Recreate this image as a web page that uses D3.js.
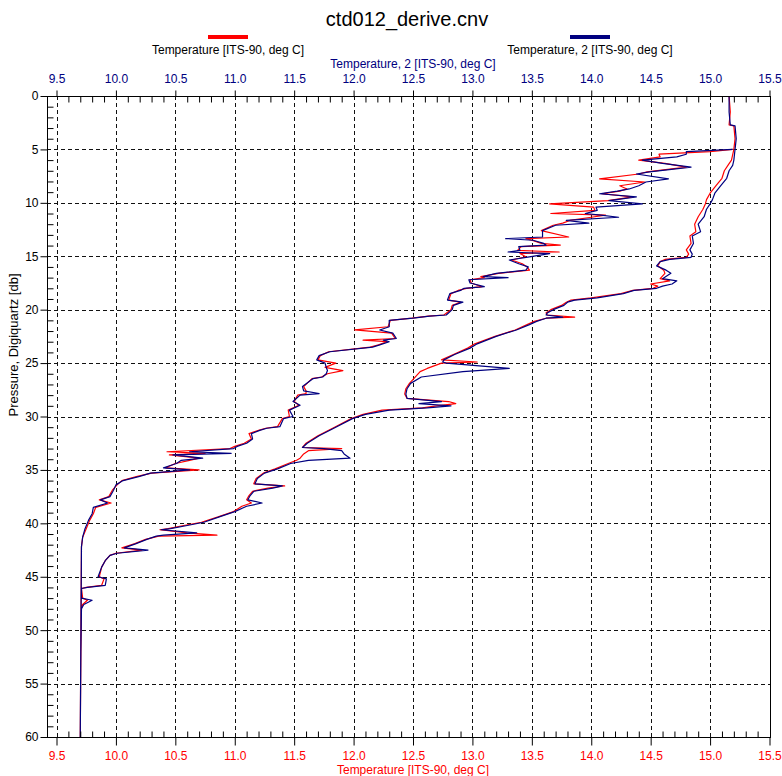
<!DOCTYPE html>
<html>
<head>
<meta charset="utf-8">
<script src="https://cdn.jsdelivr.net/npm/d3@7"></script>
<style>
  body { margin: 0; background: #fff; }
  svg { display: block; }
  text { font-family: "Liberation Sans", Arial, sans-serif; }
</style>
</head>
<body>
<svg id="chart" width="782" height="776"></svg>
<script>
// CTD cast ctd012: pressure (db) with primary and secondary temperature (ITS-90, deg C)
// Scan order: surface soak, descending branch, bottom, ascending branch.
const pressure = [
  0.0, 1.5, 2.7, 2.8, 4.0, 5.0, 6.0, 6.5, 7.0, 7.7, 8.4, 9.1, 9.7, 10.1, 10.6, 11.3, 12.0, 12.7, 13.1, 13.8,
  14.4, 14.8, 15.1, 15.3, 15.5, 15.9, 16.3, 16.6, 17.1, 17.3, 17.6, 17.8, 18.0, 18.2, 18.5, 18.9, 19.1, 19.3, 19.6, 20.0,
  20.3, 20.5, 20.7, 20.8, 21.1, 21.4, 21.9, 22.5, 23.2, 23.6, 24.2, 24.7, 24.9, 25.0, 25.5, 25.8, 26.3, 26.9, 27.4, 27.9,
  28.3, 28.6, 28.8, 29.0, 29.2, 29.4, 29.8, 30.2, 31.0, 31.8, 32.5, 32.9, 33.0, 33.2, 33.5, 33.9, 34.1, 34.4, 34.9, 35.3,
  35.8, 36.3, 36.5, 36.7, 37.0, 37.4, 37.8, 38.1, 38.4, 38.9, 39.4, 39.9, 40.2, 40.5, 40.6, 40.9, 41.1, 41.2, 41.5, 41.9,
  42.3, 42.5, 42.8, 43.0, 43.5, 44.1, 45.0, 45.2, 45.8, 46.0, 46.1, 47.0, 47.2, 47.6, 48.0, 52.0, 60.0,
  42.2, 41.3, 40.5, 39.7, 39.1, 38.5, 38.1, 37.8, 37.5, 36.9, 36.4, 36.0, 35.6, 35.3, 35.0, 34.8, 34.4, 34.1, 33.9, 33.6,
  33.45, 33.3, 33.0, 32.8, 32.5, 32.1, 31.6, 31.3, 31.1, 30.95, 30.2, 30.0, 29.4, 28.95, 28.6, 28.0, 27.85, 27.6, 27.2, 26.45,
  26.3, 26.0, 25.7, 25.4, 25.0, 24.7, 24.3, 23.94, 23.5, 23.3, 23.0, 22.85, 22.7, 22.2, 21.9, 21.6, 21.0, 20.8, 20.6, 20.5,
  20.0, 19.6, 19.3, 19.1, 18.5, 18.2, 18.0, 17.85, 17.5, 17.2, 17.0, 16.9, 16.6, 16.3, 16.0, 15.7, 15.35, 15.05, 14.75, 14.6,
  14.45, 14.1, 13.95, 13.8, 13.5, 13.35, 13.2, 12.6, 12.1, 11.9, 11.65, 11.35, 11.15, 11.0, 10.7, 10.4, 10.1, 9.8, 9.45, 9.15,
  8.9, 8.7, 8.4, 8.05, 7.75, 7.3, 7.1, 6.65, 6.3, 6.0, 5.7, 5.45, 5.2, 5.0
];

// Temperature [ITS-90, deg C] (primary sensor)
const temperature = [
  15.16, 15.17, 15.16, 15.20, 15.21, 15.20, 15.18, 15.15, 15.12, 15.10, 15.05, 15.00, 14.97, 14.96, 14.94, 14.90, 14.87, 14.88, 14.83, 14.84,
  14.80, 14.82, 14.80, 14.62, 14.58, 14.56, 14.61, 14.62, 14.58, 14.66, 14.50, 14.56, 14.52, 14.35, 14.25, 14.00, 13.83, 13.79, 13.75, 13.66,
  13.62, 13.63, 13.86, 13.62, 13.52, 13.46, 13.36, 13.19, 13.02, 12.96, 12.84, 12.74, 13.04, 12.74, 12.62, 12.56, 12.52, 12.47, 12.44, 12.43,
  12.45, 12.80, 12.86, 12.70, 12.58, 12.24, 12.08, 11.98, 11.84, 11.70, 11.60, 11.57, 11.90, 11.62, 11.58, 11.55, 11.52, 11.45, 11.34, 11.24,
  11.18, 11.16, 11.42, 11.28, 11.15, 11.12, 11.10, 11.14, 11.06, 10.99, 10.86, 10.72, 10.57, 10.44, 10.37, 10.60, 10.85, 10.36, 10.25, 10.16,
  10.05, 10.22, 10.00, 9.95, 9.91, 9.88, 9.86, 9.90, 9.88, 9.75, 9.71, 9.72, 9.76, 9.72, 9.71, 9.705, 9.70,
  9.71, 9.72, 9.75, 9.78, 9.81, 9.83, 9.96, 9.86, 9.94, 9.97, 10.01, 10.05, 10.18, 10.30, 10.70, 10.42, 10.50, 10.62, 10.70, 10.45,
  10.75, 10.43, 10.96, 11.00, 11.08, 11.14, 11.12, 11.20, 11.26, 11.36, 11.40, 11.46, 11.45, 11.54, 11.50, 11.53, 11.60, 11.60, 11.58, 11.65,
  11.73, 11.78, 11.91, 11.76, 11.85, 11.70, 11.72, 11.79, 12.14, 12.21, 12.28, 12.08, 12.35, 12.32, 12.01, 12.29, 12.31, 12.49, 12.63, 12.76,
  12.82, 12.83, 12.90, 12.80, 12.82, 12.88, 12.95, 13.08, 12.99, 12.98, 13.10, 13.07, 13.22, 13.48, 13.46, 13.42, 13.33, 13.45, 13.40, 13.73,
  13.38, 13.41, 13.74, 13.58, 13.50, 13.45, 13.81, 13.58, 13.68, 13.76, 13.82, 14.00, 14.12, 13.66, 14.03, 14.02, 13.65, 14.14, 14.35, 14.09,
  14.24, 14.30, 14.24, 14.45, 14.07, 14.40, 14.47, 14.80, 14.62, 14.40, 14.58, 14.57, 15.00, 15.19
];

// Temperature, 2 [ITS-90, deg C] (secondary sensor)
const temperature2 = [
  15.16, 15.16, 15.17, 15.21, 15.22, 15.21, 15.20, 15.19, 15.16, 15.14, 15.09, 15.04, 15.02, 15.00, 14.97, 14.95, 14.90, 14.92, 14.85, 14.86,
  14.83, 14.85, 14.84, 14.66, 14.58, 14.55, 14.63, 14.67, 14.60, 14.72, 14.68, 14.60, 14.55, 14.36, 14.27, 14.05, 13.86, 13.80, 13.77, 13.68,
  13.63, 13.62, 13.76, 13.62, 13.54, 13.48, 13.37, 13.20, 13.04, 12.98, 12.85, 12.76, 12.75, 12.78, 13.31, 12.92, 12.57, 12.48, 12.45, 12.44,
  12.45, 12.74, 12.55, 12.82, 12.62, 12.30, 12.10, 11.99, 11.85, 11.71, 11.61, 11.57, 11.75, 11.90, 11.92, 11.97, 11.62, 11.47, 11.36, 11.25,
  11.19, 11.17, 11.40, 11.32, 11.16, 11.13, 11.11, 11.23, 11.10, 11.00, 10.87, 10.74, 10.60, 10.46, 10.38, 10.68, 10.40, 10.34, 10.26, 10.17,
  10.07, 10.27, 10.01, 9.95, 9.91, 9.88, 9.85, 9.92, 9.91, 9.76, 9.71, 9.71, 9.80, 9.73, 9.71, 9.705, 9.70,
  9.71, 9.72, 9.74, 9.77, 9.80, 9.81, 9.93, 9.87, 9.95, 9.98, 10.00, 10.06, 10.20, 10.29, 10.62, 10.40, 10.51, 10.55, 10.73, 10.48,
  10.97, 10.62, 10.99, 11.02, 11.10, 11.15, 11.14, 11.21, 11.27, 11.38, 11.41, 11.49, 11.46, 11.55, 11.49, 11.55, 11.71, 11.58, 11.57, 11.66,
  11.74, 11.77, 11.78, 11.77, 11.76, 11.69, 11.71, 11.80, 12.16, 12.22, 12.30, 12.25, 12.36, 12.33, 12.22, 12.30, 12.30, 12.50, 12.64, 12.78,
  12.83, 12.84, 12.92, 12.79, 12.81, 12.90, 12.93, 13.10, 12.98, 12.97, 13.30, 13.09, 13.20, 13.45, 13.47, 13.39, 13.31, 13.48, 13.65, 13.30,
  13.40, 13.39, 13.62, 13.60, 13.51, 13.28, 13.59, 13.59, 13.70, 13.98, 13.79, 14.23, 14.08, 13.95, 14.05, 14.04, 14.43, 14.15, 14.38, 14.07,
  14.22, 14.32, 14.40, 14.46, 14.65, 14.38, 14.49, 14.84, 14.60, 14.43, 14.72, 14.80, 14.80, 15.19
];

const tempTicks = [9.5, 10.0, 10.5, 11.0, 11.5, 12.0, 12.5, 13.0, 13.5, 14.0, 14.5, 15.0, 15.5];
const tempTickLabels = ["9.5", "10.0", "10.5", "11.0", "11.5", "12.0", "12.5", "13.0", "13.5", "14.0", "14.5", "15.0", "15.5"];
const pressureTicks = [0, 5, 10, 15, 20, 25, 30, 35, 40, 45, 50, 55, 60];
const pressureTickLabels = ["0", "5", "10", "15", "20", "25", "30", "35", "40", "45", "50", "55", "60"];

const seriesNames = ["Temperature [ITS-90, deg C]", "Temperature, 2 [ITS-90, deg C]"];
const seriesColors = ["#ff0000", "#000080"];
const chartTitle = "ctd012_derive.cnv";
const yTitle = "Pressure, Digiquartz [db]";

const svg = d3.select("#chart");
const frame = { left: 47, right: 770, top: 96, bottom: 737 };

const x = d3.scaleLinear().domain([9.5, 15.5]).range([56.5, 769.5]);
const y = d3.scaleLinear().domain([0, 60]).range([frame.top, frame.bottom]);

const minorTemp = d3.range(95, 156).map(v => v / 10).filter(v => Math.round(v * 10) % 5 !== 0);
const minorPres = d3.range(0, 61).filter(v => v % 5 !== 0);

// dashed grid
const grid = svg.append("g").attr("stroke", "#111").attr("stroke-width", 1).attr("stroke-dasharray", "4,3");
grid.selectAll("line.v").data(tempTicks.filter(t => t < 15.5)).join("line")
  .attr("x1", d => Math.round(x(d)) + 0.5).attr("x2", d => Math.round(x(d)) + 0.5)
  .attr("y1", frame.top).attr("y2", frame.bottom);
grid.selectAll("line.h").data(pressureTicks.filter(p => p > 0 && p < 60)).join("line")
  .attr("y1", d => Math.round(y(d)) + 0.5).attr("y2", d => Math.round(y(d)) + 0.5)
  .attr("x1", frame.left).attr("x2", frame.right);

// profiles
const pts = pressure.map((p, i) => ({ p, t1: temperature[i], t2: temperature2[i] }));
const line1 = d3.line().x(d => x(d.t1)).y(d => y(d.p));
const line2 = d3.line().x(d => x(d.t2)).y(d => y(d.p));
svg.append("path").datum(pts).attr("d", line1)
  .attr("fill", "none").attr("stroke", seriesColors[0]).attr("stroke-width", 1.2).attr("stroke-linejoin", "round");
svg.append("path").datum(pts).attr("d", line2)
  .attr("fill", "none").attr("stroke", seriesColors[1]).attr("stroke-width", 1.2).attr("stroke-linejoin", "round");

// frame
svg.append("rect")
  .attr("x", frame.left + 0.5).attr("y", frame.top + 0.5)
  .attr("width", frame.right - frame.left).attr("height", frame.bottom - frame.top)
  .attr("fill", "none").attr("stroke", "#000").attr("stroke-width", 1);

const fmtT = d => tempTickLabels[tempTicks.indexOf(d)];
const fmtP = d => pressureTickLabels[pressureTicks.indexOf(d)];

function styleAxis(g, color) {
  g.select(".domain").remove();
  g.selectAll(".tick line").attr("stroke", "#000");
  g.selectAll("text").attr("fill", color)
    .style("font-family", '"Liberation Sans", Arial, sans-serif').style("font-size", "12px");
}

// top axis (secondary sensor)
svg.append("g").attr("transform", `translate(0,${frame.top + 0.5})`)
  .call(d3.axisTop(x).tickValues(tempTicks).tickFormat(fmtT).tickSize(6).tickPadding(8))
  .call(g => styleAxis(g, seriesColors[1]));
svg.append("g").attr("transform", `translate(0,${frame.top + 0.5})`)
  .call(d3.axisTop(x).tickValues(minorTemp).tickFormat("").tickSize(-6))
  .call(g => styleAxis(g, "#000"));

// bottom axis (primary sensor)
svg.append("g").attr("transform", `translate(0,${frame.bottom + 0.5})`)
  .call(d3.axisBottom(x).tickValues(tempTicks).tickFormat(fmtT).tickSize(8).tickPadding(6))
  .call(g => styleAxis(g, seriesColors[0]));
svg.append("g").attr("transform", `translate(0,${frame.bottom + 0.5})`)
  .call(d3.axisBottom(x).tickValues(minorTemp).tickFormat("").tickSize(-6))
  .call(g => styleAxis(g, "#000"));

// left axis (pressure)
svg.append("g").attr("transform", `translate(${frame.left + 0.5},0)`)
  .call(d3.axisLeft(y).tickValues(pressureTicks).tickFormat(fmtP).tickSize(7).tickPadding(2))
  .call(g => styleAxis(g, "#000"));
svg.append("g").attr("transform", `translate(${frame.left + 0.5},0)`)
  .call(d3.axisLeft(y).tickValues(minorPres).tickFormat("").tickSize(-6))
  .call(g => styleAxis(g, "#000"));

// titles
svg.append("text").attr("x", 407).attr("y", 26).attr("text-anchor", "middle")
  .style("font-size", "20px").attr("fill", "#000").text(chartTitle);

svg.append("text").attr("x", 413).attr("y", 68).attr("text-anchor", "middle")
  .style("font-size", "12px").attr("fill", seriesColors[1]).text(seriesNames[1]);
svg.append("text").attr("x", 413).attr("y", 774).attr("text-anchor", "middle")
  .style("font-size", "12px").attr("fill", seriesColors[0]).text(seriesNames[0]);

svg.append("text").attr("transform", "translate(18,345) rotate(-90)").attr("text-anchor", "middle")
  .style("font-size", "13px").attr("fill", "#000").text(yTitle);

// legend
const legendX = [228, 590];
const legend = svg.append("g");
legend.selectAll("line").data(seriesNames).join("line")
  .attr("x1", (d, i) => legendX[i] - 20).attr("x2", (d, i) => legendX[i] + 20)
  .attr("y1", 37).attr("y2", 37)
  .attr("stroke", (d, i) => seriesColors[i]).attr("stroke-width", 4);
legend.selectAll("text").data(seriesNames).join("text")
  .attr("x", (d, i) => legendX[i]).attr("y", 54).attr("text-anchor", "middle")
  .style("font-size", "12px").attr("fill", "#000").text(d => d);
</script>
</body>
</html>
